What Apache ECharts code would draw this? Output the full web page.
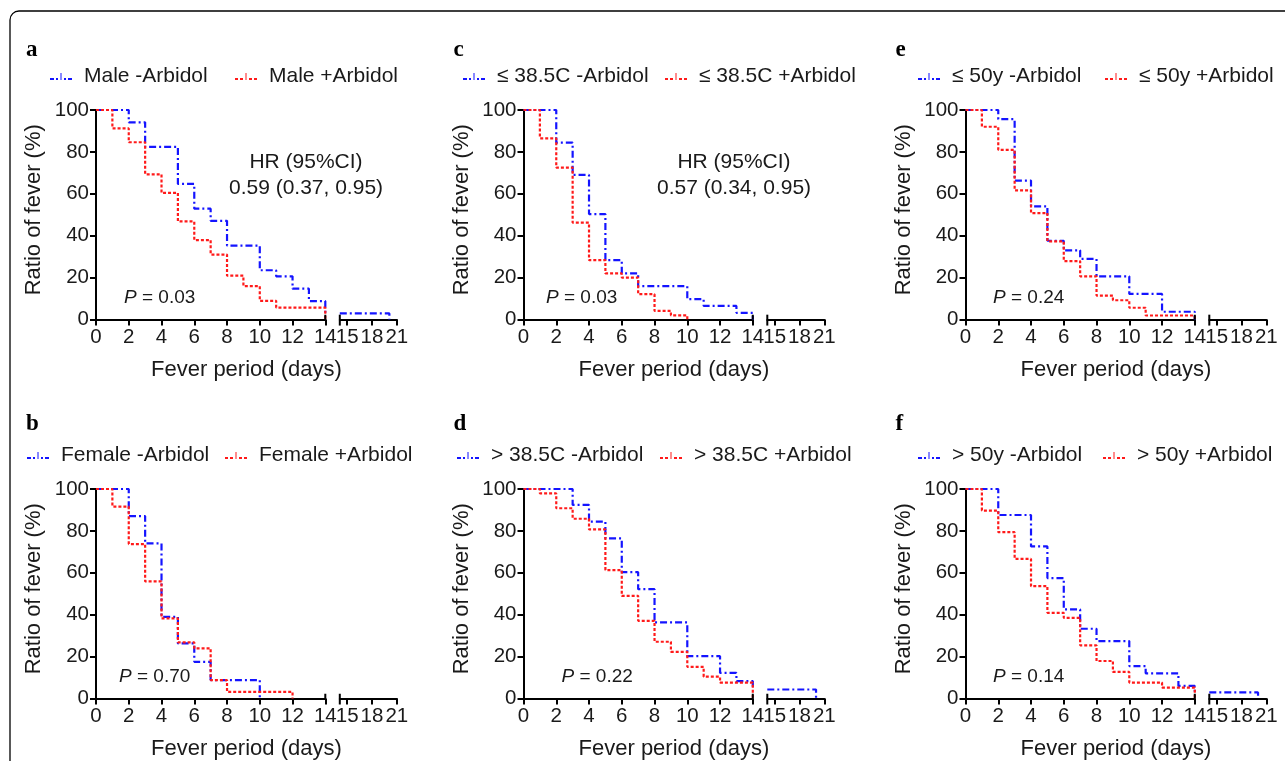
<!DOCTYPE html>
<html><head><meta charset="utf-8">
<script src="https://cdn.jsdelivr.net/npm/echarts@6/dist/echarts.min.js"></script>
<style>html,body{margin:0;padding:0;background:#fff}#c{width:1285px;height:761px}</style>
</head><body><div id="c"></div>
<script>
// ---------------- data ----------------
const yTicks = [0, 20, 40, 60, 80, 100];
const xTicksRight = [15, 18, 21];

const maleMinus = [[0,100],[2,94.1],[3,82.4],[5,64.7],[6,52.9],[7,47.1],[8,35.3],[10,23.5],[11,20.6],[12,14.7],[13,8.8],[14,2.9]];
const maleMinusTail = [[14.1,2.9],[20.1,0]];
const malePlus = [[0,100],[1,91.2],[2,84.6],[3,69.3],[4,60.4],[5,46.8],[6,37.9],[7,31.0],[8,20.9],[9,15.9],[10,8.9],[11,5.7],[14,0]];

const femaleMinus = [[0,100],[2,87.1],[3,74.0],[4,39.0],[5,26.3],[6,17.5],[7,8.8],[10,0]];
const femalePlus = [[0,100],[1,91.6],[2,73.7],[3,55.9],[4,38.2],[5,26.8],[6,23.9],[7,8.8],[8,3.2],[12,0]];

const lowTempMinus = [[0,100],[2,84.4],[3,69.0],[4,50.3],[5,28.3],[6,22.0],[7,15.9],[10,9.7],[11,6.5],[13,3.2],[14,0]];
const lowTempPlus = [[0,100],[1,86.5],[2,72.5],[3,46.2],[4,28.3],[5,22.0],[6,20.0],[7,12.1],[8,4.1],[9,2.0],[10,0]];

const highTempMinus = [[0,100],[3,92.4],[4,84.4],[5,76.4],[6,60.3],[7,52.2],[8,36.3],[10,20.2],[12,12.2],[13,8.3],[14,4.3]];
const highTempMinusTail = [[14.1,4.3],[20.0,0]];
const highTempPlus = [[0,100],[1,97.9],[2,90.8],[3,85.8],[4,80.7],[5,61.3],[6,49.0],[7,37.1],[8,27.1],[9,22.3],[10,15.1],[11,10.4],[12,7.6],[14,0]];

const youngMinus = [[0,100],[2,95.6],[3,66.3],[4,54.0],[5,37.6],[6,33.0],[7,28.9],[8,20.6],[10,12.2],[12,3.7],[14,0]];
const youngPlus = [[0,100],[1,92.0],[2,81.0],[3,61.6],[4,50.8],[5,37.3],[6,27.9],[7,20.6],[8,11.4],[9,9.2],[10,5.6],[11,1.9],[14,0]];

const oldMinus = [[0,100],[2,87.6],[4,72.6],[5,57.5],[6,42.5],[7,33.3],[8,27.4],[10,15.5],[11,12.0],[13,6.0],[14,2.9]];
const oldMinusTail = [[14.1,2.9],[20.0,0]];
const oldPlus = [[0,100],[1,89.7],[2,79.4],[3,66.6],[4,53.6],[5,40.9],[6,38.5],[7,25.4],[8,17.9],[9,12.7],[10,7.6],[12,5.2],[14,0]];

const pValues = ['0.03', '0.70', '0.03', '0.22', '0.24', '0.14'];
const hrLabel = 'HR (95%CI)';
const hrMale = '0.59 (0.37, 0.95)';
const hrLowTemp = '0.57 (0.34, 0.95)';

// ---------------- layout ----------------
const FONT = '"Liberation Sans", Arial, sans-serif';
const BLUE = '#1414ff', RED = '#ff1a1a', INK = '#1a1a1a';
const COL_X0 = [96, 523.5, 965.5];
const ROW_TOP = [110, 489];
const PLOT_W = 229.3, PLOT_H = 209.5, GAP = 243.8, RIGHT_W = 57;

const panels = [
  {letter:'a', col:0, row:0, names:['Male -Arbidol','Male +Arbidol'], minus:maleMinus, tail:maleMinusTail, plus:malePlus, legendX:[50,235], pDx:28, hr:hrMale, hrX:306},
  {letter:'b', col:0, row:1, names:['Female -Arbidol','Female +Arbidol'], minus:femaleMinus, tail:null, plus:femalePlus, legendX:[27,225], pDx:23},
  {letter:'c', col:1, row:0, names:['\u2264 38.5C -Arbidol','\u2264 38.5C +Arbidol'], minus:lowTempMinus, tail:null, plus:lowTempPlus, legendX:[463,665], pDx:22.5, hr:hrLowTemp, hrX:734},
  {letter:'d', col:1, row:1, names:['> 38.5C -Arbidol','> 38.5C +Arbidol'], minus:highTempMinus, tail:highTempMinusTail, plus:highTempPlus, legendX:[457,660], pDx:38},
  {letter:'e', col:2, row:0, names:['\u2264 50y -Arbidol','\u2264 50y +Arbidol'], minus:youngMinus, tail:null, plus:youngPlus, legendX:[918,1105], pDx:27.5},
  {letter:'f', col:2, row:1, names:['> 50y -Arbidol','> 50y +Arbidol'], minus:oldMinus, tail:oldMinusTail, plus:oldPlus, legendX:[918,1103], pDx:27.5}
];

const iconBlue = 'path://M0,5h4v2h-4z M6,5h2v2h-2z M10.5,0h1v7h-1z M14,5h2v2h-2z M18,5h4v2h-4z';
const iconRed = 'path://M0,5h3v2h-3z M5,5h3v2h-3z M10.5,0h1v7h-1z M14,5h3v2h-3z M19,5h3v2h-3z';

const grid = [], xAxis = [], yAxis = [], series = [], legend = [], graphic = [];

graphic.push({type:'rect', z:0, shape:{x:10, y:11, width:1400, height:900, r:9},
  style:{fill:'none', stroke:'#000', lineWidth:1.3}});

panels.forEach((p, i) => {
  const x0 = COL_X0[p.col], top = ROW_TOP[p.row];
  const gL = 2*i, gR = 2*i + 1;
  grid.push({left:x0, top:top, width:PLOT_W, height:PLOT_H});
  grid.push({left:x0 + GAP, top:top, width:RIGHT_W, height:PLOT_H});
  const axisCommon = {
    axisLine:{show:true, lineStyle:{color:'#000', width:2}},
    axisTick:{show:true, inside:false, length:6, lineStyle:{color:'#000', width:2}},
    splitLine:{show:false},
    axisLabel:{fontFamily:FONT, fontSize:20.5, color:INK, margin:7}
  };
  xAxis.push(Object.assign({}, axisCommon, {type:'value', gridIndex:gL, min:0, max:14, interval:2}));
  xAxis.push(Object.assign({}, axisCommon, {type:'value', gridIndex:gR, min:14.1, max:21,
    axisTick:{show:true, length:6, customValues:xTicksRight, lineStyle:{color:'#000', width:2}},
    axisLabel:{fontFamily:FONT, fontSize:20.5, color:INK, margin:7, customValues:xTicksRight}}));
  yAxis.push(Object.assign({}, axisCommon, {type:'value', gridIndex:gL, min:yTicks[0], max:yTicks[yTicks.length-1], interval:20,
    axisLabel:{fontFamily:FONT, fontSize:20.5, color:INK, margin:7}}));
  yAxis.push({type:'value', gridIndex:gR, min:0, max:100, show:false});

  const blueStyle = {color:BLUE, width:2.2, type:[7,3,2,3]};
  const redStyle = {color:RED, width:2.2, type:[3,2]};
  series.push({name:p.names[0], type:'line', step:'end', xAxisIndex:gL, yAxisIndex:gL, data:p.minus,
    symbol:'none', clip:false, lineStyle:blueStyle, itemStyle:{color:BLUE}, z:3, silent:true});
  series.push({name:p.names[1], type:'line', step:'end', xAxisIndex:gL, yAxisIndex:gL, data:p.plus,
    symbol:'none', clip:false, lineStyle:redStyle, itemStyle:{color:RED}, z:4, silent:true});
  if (p.tail) {
    series.push({name:p.names[0], type:'line', step:'end', xAxisIndex:gR, yAxisIndex:gR, data:p.tail,
      symbol:'none', clip:false, lineStyle:blueStyle, itemStyle:{color:BLUE}, z:3, silent:true});
  }
  // axis break caps
  series.push({name:'_capL'+i, type:'line', xAxisIndex:gL, yAxisIndex:gL, data:[[14,0],[14,2.3]],
    symbol:'none', clip:false, lineStyle:{color:'#000', width:2}, silent:true, z:5});
  series.push({name:'_capR'+i, type:'line', xAxisIndex:gR, yAxisIndex:gR, data:[[14.1,-2.9],[14.1,2.3]],
    symbol:'none', clip:false, lineStyle:{color:'#000', width:2}, silent:true, z:5});

  const ly = p.row === 0 ? 74 : 453;
  [0,1].forEach(k => {
    legend.push({data:[p.names[k]], left:p.legendX[k], top:ly - 8, padding:0, selectedMode:false,
      icon:k === 0 ? iconBlue : iconRed, itemWidth:22, itemHeight:7,
      textStyle:{fontFamily:FONT, fontSize:21, color:INK, padding:[0,0,0,7]}});
  });

  // panel letter
  graphic.push({type:'text', x:x0 - 70, y:p.row === 0 ? 38.5 : 413,
    style:{text:p.letter, font:'bold 23px "Liberation Serif", "DejaVu Serif", serif', fill:'#000', textVerticalAlign:'alphabetic'}});
  // axis titles
  graphic.push({type:'text', x:x0 - 62, y:top + PLOT_H/2 - 5, rotation:Math.PI/2,
    style:{text:'Ratio of fever (%)', font:'22px ' + FONT, fill:INK, textAlign:'center', textVerticalAlign:'middle'}});
  graphic.push({type:'text', x:x0 + (GAP + RIGHT_W)/2, y:top + PLOT_H + 50,
    style:{text:'Fever period (days)', font:'22px ' + FONT, fill:INK, textAlign:'center', textVerticalAlign:'middle'}});
  // P value
  graphic.push({type:'text', x:x0 + p.pDx, y:top + PLOT_H - 22,
    style:{text:'{i|P} = ' + pValues[i], font:'19px ' + FONT, fill:INK, textVerticalAlign:'middle',
      rich:{i:{fontStyle:'italic', fontFamily:FONT, fontSize:19, fill:INK}}}});
  if (p.hr) {
    graphic.push({type:'text', x:p.hrX, y:top + 52,
      style:{text:hrLabel, font:'21px ' + FONT, fill:INK, textAlign:'center', textVerticalAlign:'middle'}});
    graphic.push({type:'text', x:p.hrX, y:top + 78,
      style:{text:p.hr, font:'21px ' + FONT, fill:INK, textAlign:'center', textVerticalAlign:'middle'}});
  }
});

const chart = echarts.init(document.getElementById('c'), null, {renderer:'canvas'});
chart.setOption({
  animation:false,
  backgroundColor:'#fff',
  grid, xAxis, yAxis, series, legend, graphic
});
</script></body></html>
